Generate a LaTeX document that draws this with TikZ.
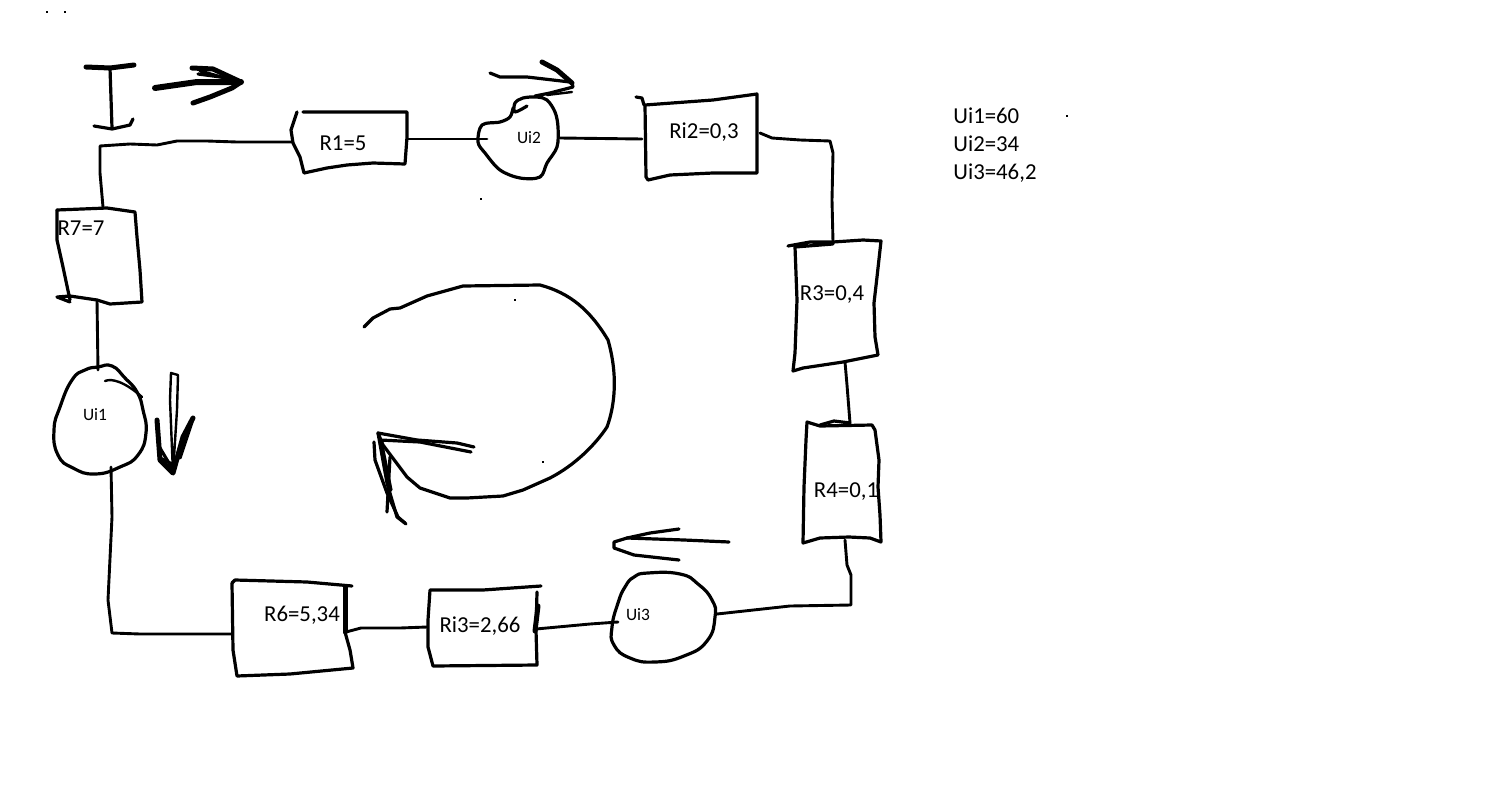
\documentclass[tikz,border=0pt]{standalone}
\usepackage{fontspec}
\setmainfont{Carlito}
\begin{document}
\begin{tikzpicture}[x=0.5pt,y=-0.5pt,
  sk/.style={line width=1.6pt,line join=round,line cap=round,black},
  wire/.style={sk,line width=1.45pt},
  thin stroke/.style={sk,line width=1.2pt},
  heavy/.style={sk,line width=2.5pt},
  lab/.style={anchor=base,inner sep=0pt,font=\fontsize{11.4}{13}\selectfont},
  small lab/.style={anchor=base,inner sep=0pt,font=\fontsize{8.7}{10}\selectfont},
  speck/.style={fill=black,inner sep=0pt,minimum size=0.6pt,shape=rectangle}]
\useasboundingbox[fill=white] (0,0) rectangle (1488,803);

% connection points
\coordinate (r7n) at (103,207);
\coordinate (r7s) at (97,300);
\coordinate (r1w) at (293,142);
\coordinate (r1e) at (407,139);
\coordinate (u2w) at (487,139);
\coordinate (u2e) at (560,138);
\coordinate (ri2w) at (642,139);
\coordinate (ri2e) at (760,133);
\coordinate (r3n) at (833,242);
\coordinate (r3s) at (845,362);
\coordinate (r4n) at (850,423);
\coordinate (r4s) at (845,540);
\coordinate (u3e) at (717,614);
\coordinate (u3w) at (618,622);
\coordinate (ri3e) at (536,629);
\coordinate (ri3w) at (427,627);
\coordinate (r6e) at (346,632);
\coordinate (r6w) at (232,634);
\coordinate (u1s) at (111,467);
\coordinate (u1n) at (98,370);

% current symbol I and its arrow
\draw[heavy] (86,67) -- (110,68) -- (134,65);
\draw[sk] (110,68) -- (112,128);
\draw[sk] (94,126) -- (112,129) -- (130,125) -- (133,119);
\draw[heavy,line width=3pt] (155,88) -- (197,82) -- (241,82);
\draw[heavy] (192,68) -- (213,69) -- (241,82) -- (232,88) -- (210,97) -- (193,103);
\draw[sk] (198,74) -- (228,78);
\draw[sk] (200,71) -- (232,80);

% resistors
\draw[sk] (297,112) -- (291,130) -- (293,143) -- (300,157) -- (304,173) -- (327,168) -- (347,165) -- (373,163) -- (405,164) -- (407,137) -- (407,112) -- (303,112);
\draw[sk] (57,210) -- (107,208) -- (135,212) -- (137,237) -- (140,270) -- (142,302) -- (110,304) -- (97,300) -- (70,296) -- (57,297) -- (70,302);
\draw[sk] (57,210) -- (57,240) -- (63,267) -- (70,300);
\draw[sk] (636,97) -- (642,98) -- (644,105);
\draw[sk] (645,105) -- (713,100) -- (757,94) -- (757,173) -- (713,173) -- (670,175) -- (648,180) -- (646,177) -- cycle;
\draw[sk] (788,246) -- (810,242) -- (833,242) -- (863,240) -- (881,241) -- (877,277) -- (874,303) -- (875,337) -- (878,355) -- (843,362) -- (803,368) -- (793,371) -- (795,353) -- (797,300) -- (795,247) -- (833,244);
\draw[sk] (807,422) -- (820,426) -- (872,425) -- (875,430) -- (879,460) -- (878,487) -- (880,515) -- (881,542) -- (870,538) -- (849,537) -- (820,538) -- (803,543) -- (804,487) -- (806,440) -- cycle;
\draw[sk] (820,425) -- (834,421) -- (850,423);
\draw[sk] (541,586) -- (483,590) -- (430,590) -- (428,620) -- (428,647) -- (433,666) -- (537,665) -- (536,630) -- (537,592);
\draw[heavy] (538,606) -- (535,631);
\draw[sk] (232,583) -- (235,580) -- (307,582) -- (352,586);
\draw[sk] (232,583) -- (233,650) -- (237,676) -- (290,674) -- (353,668) -- (350,650) -- (345,632);
\draw[heavy] (345,587) -- (345,632);

% sources
\draw[sk] plot[smooth,tension=.55] coordinates {(527,106) (515,112) (515,103) (523,98) (537,97) (547,100) (555,112) (558,127) (557,147) (547,163) (540,177) (520,178) (500,170) (485,153) (478,142) (482,125) (500,122) (510,117) (513,108)};
\draw[sk] plot[smooth cycle,tension=.85] coordinates {(98,367) (112,366) (125,378) (137,392) (143,410) (146,433) (138,455) (120,467) (95,474) (73,468) (58,455) (54,430) (60,407) (72,380) (85,370)};
\draw[thin stroke] (105,381) .. controls (112,378) and (125,382) .. (142,397);
\draw[sk] plot[smooth cycle,tension=.85] coordinates {(634,577) (648,573) (680,574) (698,584) (712,600) (715,617) (707,641) (684,656) (655,662) (630,658) (614,645) (612,627) (618,603) (625,587)};

% wires
\draw[wire] (r7n) -- (100,173) -- (100,146) -- (130,144) -- (157,145) -- (177,141) -- (207,141) -- (237,142) -- (r1w);
\draw[wire] (r1e) -- (435,139) -- (460,139) -- (u2w);
\draw[wire] (u2e) -- (ri2w);
\draw[wire] (ri2e) -- (772,138) -- (800,140) -- (830,141) -- (833,153) -- (832,200) -- (r3n);
\draw[wire] (r3s) -- (847,385) -- (r4n);
\draw[wire] (r4s) -- (847,565) -- (851,575) -- (851,605) -- (790,606) -- (u3e);
\draw[wire] (u3w) -- (590,624) -- (ri3e);
\draw[wire] (ri3w) -- (400,628) -- (361,628) -- (r6e);
\draw[wire] (r6w) -- (140,634) -- (112,633) -- (108,600) -- (112,517) -- (u1s);
\draw[wire] (r7s) -- (u1n);

% arrow over Ui2
\draw[sk] (490,73) -- (500,77) -- (527,77) -- (570,82);
\draw[heavy] (542,62) -- (557,70) -- (572,83);
\draw[sk] (572,83) -- (573,87) -- (550,93) -- (535,96);
\draw[thin stroke] (572,92) -- (547,95);

% arrow beside Ui1
\draw[thin stroke] (171,373) -- (178,375) -- (177,410) -- (173,473) -- (170,400) -- cycle;
\draw[heavy] (157,420) -- (160,460) -- (173,473) -- (183,437) -- (193,418);
\draw[sk] (176,462) -- (190,425);
\draw[sk] (180,458) -- (192,422);
\draw[sk] (160,458) -- (172,464);
\draw[sk] (160,448) -- (173,470);

% arrow over Ui3
\draw[sk] (729,542) -- (684,540) -- (627,538) -- (614,542) -- (614,548) -- (634,555) -- (679,560);
\draw[sk] (627,538) -- (650,533) -- (679,529);

% big loop arrow
\draw[sk] (364,327) -- (373,318) -- (390,309) -- (400,308) -- (427,296) -- (463,286) -- (540,285)
  .. controls (570,293) and (590,310) .. (608,340)
  .. controls (618,375) and (615,405) .. (607,427)
  .. controls (595,445) and (575,465) .. (550,478)
  -- (523,490) -- (503,496) -- (467,498) -- (450,498) -- (420,488) -- (407,477) -- (383,445) -- (378,433);
\draw[sk] (378,433) -- (417,440) -- (457,443) -- (474,447);
\draw[sk] (380,440) -- (420,442) -- (471,452);
\draw[sk] (374,442) -- (375,460) -- (387,493) -- (398,517) -- (406,524);
\draw[sk] (378,433) -- (387,483) -- (397,517) -- (405,523);
\draw[sk] (390,457) -- (387,512);
\draw[sk] (381,440) -- (391,490);

% labels
\node[lab] (tr1) at (343,150) {R1=5};
\node[lab] (tr7) at (81,235) {R7=7};
\node[lab] (tri2) at (704,138) {Ri2=0,3};
\node[lab] (tr3) at (832,300) {R3=0,4};
\node[lab] (tr4) at (846,497) {R4=0,1};
\node[lab] (tri3) at (480,632) {Ri3=2,66};
\node[lab] (tr6) at (302,621) {R6=5,34};
\node[small lab] (tu1) at (95,420) {Ui1};
\node[small lab] (tu2) at (529,143) {Ui2};
\node[small lab] (tu3) at (638,620) {Ui3};
\node[lab,anchor=base west] (l1) at (953,123) {Ui1=60};
\node[lab,anchor=base west] (l2) at (953,151) {Ui2=34};
\node[lab,anchor=base west] (l3) at (953,179) {Ui3=46,2};

% stray specks
\node[speck] (s1) at (1067,116) {};
\node[speck] (s2) at (515,300) {};
\node[speck] (s3) at (543,462) {};
\node[speck] (s4) at (481,199) {};
\node[speck] (s5) at (47,12) {};
\node[speck] (s6) at (65,12) {};
\end{tikzpicture}
\end{document}
